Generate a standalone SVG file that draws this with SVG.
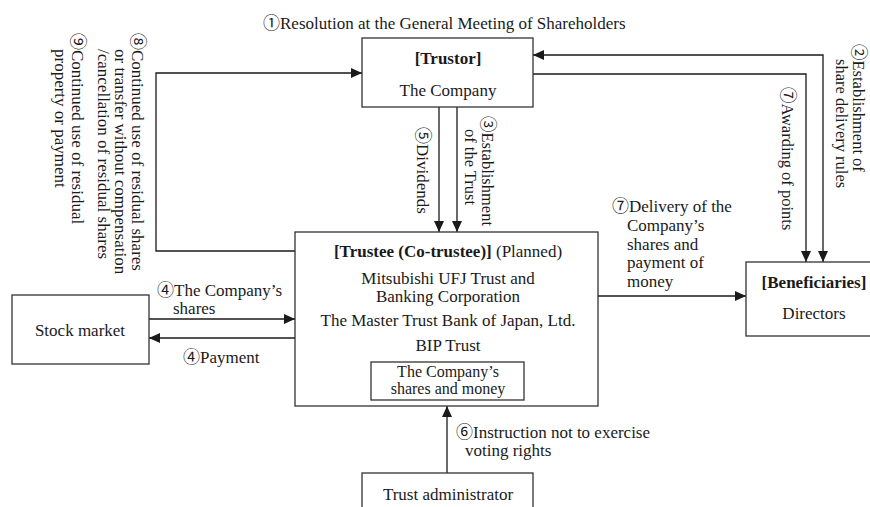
<svg xmlns="http://www.w3.org/2000/svg" width="870" height="507" viewBox="0 0 870 507">
<defs>
<marker id="ah" markerUnits="userSpaceOnUse" markerWidth="12" markerHeight="12" viewBox="0 0 12 12" refX="11" refY="6" orient="auto-start-reverse">
<path d="M0,1 L11,6 L0,11 Z" fill="#1a1a1a"/>
</marker>
</defs>
<style>
text{font-family:"Liberation Serif","Noto Sans CJK JP",serif;fill:#1a1a1a;font-size:17px}
.v{font-size:16.5px}
.s{font-size:16px}
.b{font-weight:bold}
.m{text-anchor:middle}
.box{fill:#fff;stroke:#333;stroke-width:1.3}
.c{fill:none;stroke:#1a1a1a;stroke-width:1.3}
</style>
<rect width="870" height="507" fill="#fff"/>

<g id="connectors">
<polyline class="c" points="295,251 156,251 156,73 362,73" marker-end="url(#ah)"/>
<polyline class="c" points="533,55 823,55 823,262" marker-start="url(#ah)" marker-end="url(#ah)"/>
<polyline class="c" points="533,74 806,74 806,262" marker-end="url(#ah)"/>
<line class="c" x1="439" y1="107" x2="439" y2="232" marker-end="url(#ah)"/>
<line class="c" x1="457" y1="107" x2="457" y2="232" marker-end="url(#ah)"/>
<line class="c" x1="149" y1="319" x2="295" y2="319" marker-end="url(#ah)"/>
<line class="c" x1="295" y1="338" x2="149" y2="338" marker-end="url(#ah)"/>
<line class="c" x1="598" y1="296" x2="746" y2="296" marker-end="url(#ah)"/>
<line class="c" x1="447" y1="473" x2="447" y2="406" marker-end="url(#ah)"/>
</g>

<g id="labels">
<text x="263" y="29">①Resolution at the General Meeting of Shareholders</text>
<text transform="translate(132,33) rotate(90)"><tspan x="0" y="0">⑧Continued use of residual shares</tspan><tspan x="16" y="17">or transfer without compensation</tspan><tspan x="16" y="34">/cancellation of residual shares</tspan></text>
<text transform="translate(72,33) rotate(90)"><tspan x="0" y="0">⑨Continued use of residual</tspan><tspan x="16" y="17">property or payment</tspan></text>
<text transform="translate(417,127) rotate(90)">⑤Dividends</text>
<text class="v" transform="translate(482,116) rotate(90)"><tspan x="0" y="0">③Establishment</tspan><tspan x="13" y="17">of the Trust</tspan></text>
<text class="v" transform="translate(853,44) rotate(90)"><tspan x="0" y="0">②Establishment of</tspan><tspan x="15" y="17">share delivery rules</tspan></text>
<text class="v" transform="translate(782,87) rotate(90)">⑦Awarding of points</text>
<text x="612" y="212">⑦Delivery of the</text>
<text x="627" y="231">Company’s</text>
<text x="627" y="250">shares and</text>
<text x="627" y="268">payment of</text>
<text x="627" y="287">money</text>
<text x="157" y="296">④The Company’s</text>
<text x="173" y="314">shares</text>
<text x="183" y="363">④Payment</text>
<text x="456" y="438">⑥Instruction not to exercise</text>
<text x="465" y="456">voting rights</text>
</g>

<g id="trustor">
<rect class="box" x="362" y="38" width="171" height="69"/>
<text class="m b" x="448" y="64">[Trustor]</text>
<text class="m" x="448" y="96">The Company</text>
</g>

<g id="trustee">
<rect class="box" x="295" y="232" width="303" height="174"/>
<text class="m" x="448" y="257"><tspan class="b">[Trustee (Co-trustee)]</tspan> (Planned)</text>
<text class="m" x="448" y="284">Mitsubishi UFJ Trust and</text>
<text class="m" x="448" y="302">Banking Corporation</text>
<text class="m" x="448" y="326">The Master Trust Bank of Japan, Ltd.</text>
<text class="m" x="448" y="351">BIP Trust</text>
<rect class="box" x="371" y="362" width="153" height="38"/>
<text class="m s" x="448" y="377">The Company’s</text>
<text class="m s" x="448" y="394">shares and money</text>
</g>

<g id="stock-market">
<rect class="box" x="12" y="295" width="137" height="69"/>
<text class="m" x="80" y="336">Stock market</text>
</g>

<g id="beneficiaries">
<rect class="box" x="746" y="262" width="140" height="74"/>
<text class="m b" x="814" y="288">[Beneficiaries]</text>
<text class="m" x="814" y="319">Directors</text>
</g>

<g id="trust-administrator">
<rect class="box" x="362" y="473" width="171" height="50"/>
<text class="m" x="448" y="500">Trust administrator</text>
</g>
</svg>
